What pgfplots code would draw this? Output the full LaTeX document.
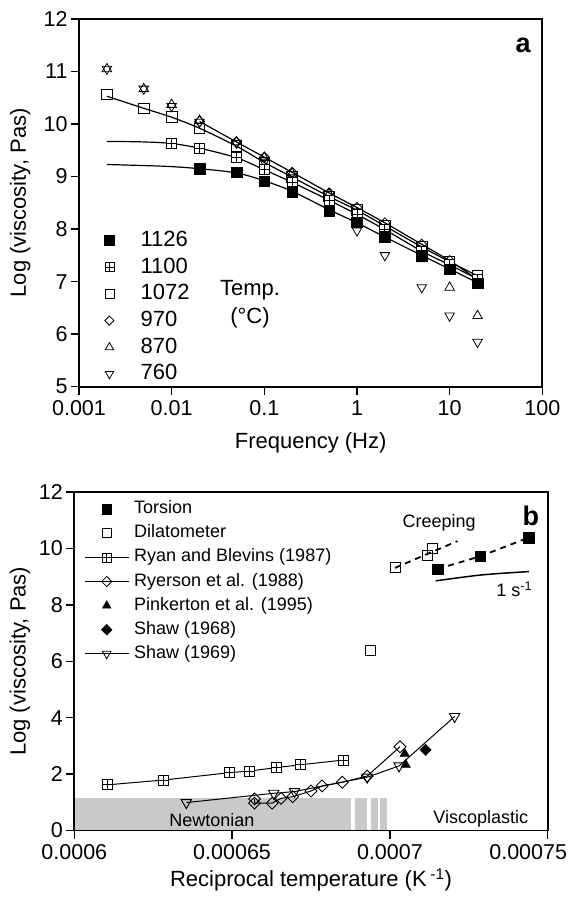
\documentclass[border=0pt]{standalone}
\usepackage{fontspec}
\setmainfont{Liberation Sans}
\usepackage{pgfplots}
\pgfplotsset{compat=1.18}
\usetikzlibrary{plotmarks}
\pgfdeclareplotmark{boxplus}{%
 \pgfpathrectangle{\pgfqpoint{-\pgfplotmarksize}{-\pgfplotmarksize}}{\pgfqpoint{2\pgfplotmarksize}{2\pgfplotmarksize}}%
 \pgfusepathqfillstroke
 \pgfpathmoveto{\pgfqpoint{-\pgfplotmarksize}{0pt}}\pgfpathlineto{\pgfqpoint{\pgfplotmarksize}{0pt}}%
 \pgfpathmoveto{\pgfqpoint{0pt}{-\pgfplotmarksize}}\pgfpathlineto{\pgfqpoint{0pt}{\pgfplotmarksize}}%
 \pgfusepathqstroke}
\pgfplotsset{
 myax/.style={scale only axis,
  axis line style={line width=1.8pt},
  tick style={black, line width=1.5pt},
  tick align=outside, major tick length=8pt, minor tick length=0pt,
  tick pos=left,
  tick label style={font=\fontsize{21.5}{26}\selectfont},
  xticklabel style={yshift=-2.5pt},
  /pgf/number format/assume math mode=true,
  legend cell align=left,
 },
}
\begin{document}
\begin{tikzpicture}
\useasboundingbox (0,0) rectangle (573pt,-897pt);
% ---------------- panel a
\begin{axis}[myax, at={(79pt,-386.7pt)}, anchor=south west,
 width=463.3pt, height=367.7pt,
 xmode=log, xmin=0.001, xmax=100, ymin=5, ymax=12,
 xtick={0.001,0.01,0.1,1,10,100}, xticklabels={0.001,0.01,0.1,1,10,100},
 ytick={5,6,7,8,9,10,11,12},
 xlabel={Frequency (Hz)}, ylabel={Log (viscosity, Pas)},
 every axis x label/.style={at={(axis description cs:0.5,-0.153)}, anchor=center, font=\fontsize{22}{26}\selectfont},
 every axis y label/.style={at={(axis description cs:-0.127,0.5)}, anchor=center, rotate=90, font=\fontsize{22}{26}\selectfont},
 legend style={at={(axis description cs:0.054,0.4254)}, anchor=north west, draw=none, fill=none,
   font=\fontsize{22}{26}\selectfont, inner sep=0pt,
   nodes={inner sep=0pt, text height=16pt, text depth=4pt},
   row sep=6.7pt, column sep=26pt},
 legend image code/.code={\draw[mark repeat=2, mark phase=2, #1] plot coordinates {(0pt,0pt)(12pt,0pt)(24pt,0pt)};},
]
\addlegendimage{only marks, mark=square*, mark size=5.2pt, mark options={fill=black, draw=black, line width=0.8pt}}
\addlegendentry{1126}
\addlegendimage{only marks, mark=boxplus, mark size=4.5pt, mark options={fill=white, draw=black, line width=0.8pt}}
\addlegendentry{1100}
\addlegendimage{only marks, mark=square, mark size=4.5pt, mark options={fill=white, draw=black, line width=0.8pt}}
\addlegendentry{1072}
\addlegendimage{only marks, mark=square, mark size=3.2pt, mark options={fill=white, draw=black, line width=0.8pt, rotate=45}}
\addlegendentry{970}
\addlegendimage{only marks, mark=triangle, mark size=4.8pt, mark options={fill=white, draw=black, line width=0.8pt}}
\addlegendentry{870}
\addlegendimage{only marks, mark=triangle, mark size=4.8pt, mark options={fill=white, draw=black, line width=0.8pt, rotate=180}}
\addlegendentry{760}
% fitted lines
\addplot[forget plot, black, line width=1.2pt, smooth] coordinates {(0.002,9.23)(0.005,9.21)(0.01,9.19)(0.02,9.15)(0.05,9.07)(0.1,8.92)(0.2,8.72)(0.5,8.37)(1,8.12)(2,7.85)(5,7.50)(10,7.24)(20,6.98)};
\addplot[forget plot, black, line width=1.2pt, smooth] coordinates {(0.002,9.67)(0.005,9.66)(0.01,9.63)(0.02,9.54)(0.05,9.36)(0.1,9.13)(0.2,8.89)(0.5,8.55)(1,8.28)(2,7.99)(5,7.58)(10,7.32)(20,7.05)};
\addplot[forget plot, black, line width=1.2pt, smooth] coordinates {(0.002,10.53)(0.005,10.30)(0.01,10.13)(0.02,9.92)(0.05,9.58)(0.1,9.27)(0.2,8.99)(0.5,8.62)(1,8.36)(2,8.06)(5,7.66)(10,7.38)(20,7.11)};
\addplot[forget plot, black, line width=1.2pt, smooth] coordinates {(0.02,10.05)(0.05,9.66)(0.1,9.37)(0.2,9.08)(0.5,8.69)(1,8.41)(2,8.12)(5,7.71)(10,7.40)(20,7.04)};
% markers
\addplot[forget plot, only marks, mark=triangle, mark size=5.5pt, mark options={fill=white, draw=black, line width=0.8pt, rotate=180}] coordinates {(0.002,11.05)(0.005,10.67)(0.01,10.34)(0.02,10.04)(0.05,9.64)(0.1,9.28)(0.2,8.98)(0.5,8.50)(1,7.97)(2,7.50)(5,6.89)(10,6.35)(20,5.85)};
\addplot[forget plot, only marks, mark=triangle, mark size=5.5pt, mark options={fill=white, draw=black, line width=0.8pt}] coordinates {(0.002,11.05)(0.005,10.67)(0.01,10.37)(0.02,10.07)(0.05,9.66)(0.1,9.36)(0.2,9.06)(0.5,8.67)(1,8.31)(2,7.96)(5,7.43)(10,6.89)(20,6.35)};
\addplot[forget plot, only marks, mark=square, mark size=3.6pt, mark options={fill=white, draw=black, line width=0.8pt, rotate=45}] coordinates {(0.02,10.05)(0.05,9.66)(0.1,9.37)(0.2,9.08)(0.5,8.69)(1,8.41)(2,8.12)(5,7.71)(10,7.40)(20,7.04)};
\addplot[forget plot, only marks, mark=square, mark size=5.3pt, mark options={fill=white, draw=black, line width=0.9pt}] coordinates {(0.002,10.56)(0.005,10.30)(0.01,10.13)(0.02,9.92)(0.05,9.58)(0.1,9.27)(0.2,8.99)(0.5,8.62)(1,8.36)(2,8.06)(5,7.66)(10,7.38)(20,7.11)};
\addplot[forget plot, only marks, mark=boxplus, mark size=5.0pt, mark options={fill=white, draw=black, line width=0.9pt}] coordinates {(0.01,9.63)(0.02,9.54)(0.05,9.36)(0.1,9.13)(0.2,8.89)(0.5,8.55)(1,8.28)(2,7.99)(5,7.58)(10,7.32)(20,7.05)};
\addplot[forget plot, only marks, mark=square*, mark size=5.3pt, mark options={fill=black, draw=black}] coordinates {(0.02,9.15)(0.05,9.08)(0.1,8.91)(0.2,8.71)(0.5,8.34)(1,8.13)(2,7.85)(5,7.49)(10,7.24)(20,6.97)};
\node[align=center, font=\fontsize{22}{28}\selectfont] at (axis cs:0.07,6.58) {Temp.\\(°C)};
\node[font=\fontsize{27}{30}\selectfont\bfseries] at (axis cs:62,11.49) {a};
\end{axis}
% ---------------- panel b
\begin{axis}[myax, at={(74.3pt,-830.5pt)}, anchor=south west,
 width=473.4pt, height=338.5pt, axis on top,
 xmin=0.0006, xmax=0.00075, ymin=0, ymax=12,
 scaled x ticks=false,
 xtick={0.0006,0.00065,0.0007,0.00075},
 xticklabels={0.0006,0.00065,0.0007,\hbox to 0pt{\hss 0.00075\hss\kern 39pt}},
 ytick={0,2,4,6,8,10,12},
 xlabel={Reciprocal temperature (K\,\textsuperscript{-1})}, ylabel={Log (viscosity, Pas)},
 every axis x label/.style={at={(axis description cs:0.5,-0.146)}, anchor=center, font=\fontsize{22}{26}\selectfont},
 every axis y label/.style={at={(axis description cs:-0.1147,0.5)}, anchor=center, rotate=90, font=\fontsize{22}{26}\selectfont},
 legend style={at={(axis description cs:0.0205,0.9764)}, anchor=north west, draw=none, fill=none,
   font=\fontsize{18}{22}\selectfont, inner sep=0pt,
   nodes={inner sep=0pt, text height=13.5pt, text depth=4.5pt},
   row sep=6.1pt, column sep=5pt},
 legend image code/.code={\draw[mark repeat=2, mark phase=2, #1] plot coordinates {(0pt,0pt)(22pt,0pt)(44pt,0pt)};},
]
\addlegendimage{only marks, mark=square*, mark size=4.8pt, mark options={fill=black, draw=black}}
\addlegendentry{Torsion}
\addlegendimage{only marks, mark=square, mark size=4.5pt, mark options={fill=white, draw=black, line width=0.8pt}}
\addlegendentry{Dilatometer}
\addlegendimage{black, line width=1pt, mark=boxplus, mark size=4.5pt, mark options={fill=white, draw=black, line width=0.8pt}}
\addlegendentry{Ryan and Blevins (1987)}
\addlegendimage{black, line width=1pt, mark=square, mark size=3.6pt, mark options={fill=white, draw=black, line width=0.8pt, rotate=45}}
\addlegendentry{Ryerson et al. (1988)}
\addlegendimage{only marks, mark=triangle*, mark size=5pt, mark options={fill=black, draw=black}}
\addlegendentry{Pinkerton et al. (1995)}
\addlegendimage{only marks, mark=square*, mark size=3.8pt, mark options={fill=black, draw=black, rotate=45}}
\addlegendentry{Shaw (1968)}
\addlegendimage{black, line width=1pt, mark=triangle, mark size=5pt, mark options={fill=white, draw=black, line width=0.8pt, rotate=180}}
\addlegendentry{Shaw (1969)}
% grey Newtonian region
\addplot[forget plot, fill=black!21, draw=none] coordinates {(0.0006,0)(0.0006,1.14)(0.00068776,1.14)(0.00068776,0)} -- cycle;
\addplot[forget plot, fill=black!21, draw=none] coordinates {(0.0006888,0)(0.0006888,1.14)(0.0006926,1.14)(0.0006926,0)} -- cycle;
\addplot[forget plot, fill=black!21, draw=none] coordinates {(0.0006939,0)(0.0006939,1.14)(0.0006962,1.14)(0.0006962,0)} -- cycle;
\addplot[forget plot, fill=black!21, draw=none] coordinates {(0.0006968,0)(0.0006968,1.14)(0.000699,1.14)(0.000699,0)} -- cycle;
% Ryan and Blevins
\addplot[forget plot, black, line width=1pt, mark=boxplus, mark size=5pt, mark options={fill=white, draw=black, line width=0.9pt}] coordinates {(0.0006106,1.62)(0.0006283,1.79)(0.0006492,2.05)(0.0006556,2.11)(0.000664,2.23)(0.0006717,2.33)(0.0006854,2.50)};
% Shaw 1969
\addplot[forget plot, black, line width=1pt, mark=triangle, mark size=6pt, mark options={fill=white, draw=black, line width=0.9pt, rotate=180}] coordinates {(0.0006355,0.99)(0.0006632,1.32)(0.0006698,1.38)(0.0006928,1.89)(0.0007029,2.29)(0.0007205,4.04)};
% Ryerson
\addplot[forget plot, black, line width=1pt, mark=square, mark size=4.2pt, mark options={fill=white, draw=black, line width=0.9pt, rotate=45}] coordinates {(0.0006571,1.12)(0.0006571,0.97)(0.0006627,0.97)(0.0006655,1.14)(0.0006692,1.20)(0.000675,1.40)(0.0006785,1.58)(0.0006849,1.71)(0.0006928,1.93)(0.0007032,2.97)};
% Pinkerton
\addplot[forget plot, only marks, mark=triangle*, mark size=5.5pt, mark options={fill=black, draw=black}] coordinates {(0.0007047,2.72)(0.000705,2.33)};
% Shaw 1968
\addplot[forget plot, only marks, mark=square*, mark size=4pt, mark options={fill=black, draw=black, rotate=45}] coordinates {(0.0007113,2.86)};
% creeping lines
\addplot[forget plot, black, line width=1.8pt, dash pattern=on 6pt off 5pt] coordinates {(0.0007016,9.31)(0.0007214,10.26)};
\addplot[forget plot, black, line width=1.8pt, dash pattern=on 6pt off 5pt] coordinates {(0.0007151,9.27)(0.0007286,9.72)(0.0007439,10.38)};
\addplot[forget plot, black, line width=1.5pt, smooth] coordinates {(0.0007145,8.85)(0.000729,9.06)(0.0007441,9.18)};
% Dilatometer
\addplot[forget plot, only marks, mark=square, mark size=5pt, mark options={fill=white, draw=black, line width=0.9pt}] coordinates {(0.0007016,9.31)(0.0007119,9.75)(0.0007135,9.99)(0.0006937,6.39)};
% Torsion
\addplot[forget plot, only marks, mark=square*, mark size=5.3pt, mark options={fill=black, draw=black}] coordinates {(0.0007151,9.27)(0.0007286,9.72)(0.0007439,10.38)};
\node[font=\fontsize{18}{22}\selectfont] at (axis cs:0.0007156,10.91) {Creeping};
\node[font=\fontsize{18}{22}\selectfont] at (axis cs:0.0007394,8.54) {1 s\textsuperscript{-1}};
\node[font=\fontsize{18}{22}\selectfont] at (axis cs:0.0006436,0.37) {Newtonian};
\node[font=\fontsize{18}{22}\selectfont] at (axis cs:0.0007288,0.43) {Viscoplastic};
\node[font=\fontsize{27}{30}\selectfont\bfseries] at (axis cs:0.0007447,11.15) {b};
\end{axis}
\end{tikzpicture}
\end{document}
